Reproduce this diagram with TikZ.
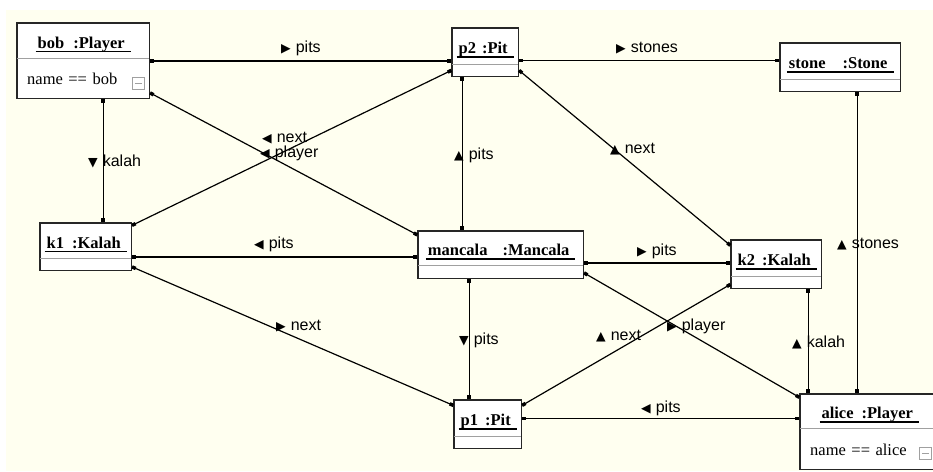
\documentclass[tikz,border=0pt]{standalone}
\usepackage{fontspec}
\setmainfont{Liberation Serif}
\newfontfamily\lblfont{Liberation Sans}
\newfontfamily\symfont{DejaVu Sans}
\usetikzlibrary{positioning,fit,arrows.meta}

\definecolor{paper}{HTML}{FFFFF0}
\definecolor{sepgray}{HTML}{A0A0A0}

\newcommand\titleul[1]{\setbox0\hbox{\hspace{2pt}#1\hspace{6pt}}\rlap{\rule[-4pt]{\wd0}{1.3pt}}\box0}
\newcommand\lbltri[1]{{\symfont\fontsize{12.5}{12}\selectfont #1}\hspace{5pt}}

\tikzset{
  ttl/.style={fill=white, inner sep=0pt, anchor=north west, text height=15pt, text depth=0pt,
    font=\bfseries\fontsize{16.5}{18}\selectfont},
  att/.style={fill=white, inner sep=0pt, text height=12pt, text depth=0pt,
    font=\fontsize{16.5}{18}\selectfont},
  attv/.style={att, inner xsep=10pt, align=left, text width=#1},
  frame/.style={draw=black!85, line width=1.3pt, inner sep=0pt},
  sepline/.style={draw=sepgray, line width=0.9pt},
  minus/.style={draw=sepgray, line width=0.9pt, minimum size=12pt, inner sep=0pt, text=sepgray},
  link/.style={line width=1.2pt, {Square[length=4pt,width=3.5pt]}-{Square[length=4pt,width=3.5pt]}},
  lbl/.style={anchor=base west, inner sep=0pt, font=\lblfont\fontsize{16}{16}\selectfont}
}

\begin{document}
\begin{tikzpicture}[x=1pt,y=-1pt]
  \useasboundingbox (0,0) rectangle (933,471);
  \fill[paper] (6,10) rectangle (933,471);

  % objects
  \node[ttl, minimum width=132pt, minimum height=35pt] (bobT) at (17,23) {\titleul{bob\hspace{9pt}:Player}};
  \node[attv=112pt, minimum height=40pt, below=0pt of bobT] (bobA) {name == bob};
  \node[frame, fit=(bobT)(bobA)] (bob) {};
  \draw[sepline] (bobT.south west) -- (bobT.south east);
  \node[minus] (bobI) at ([xshift=-11pt,yshift=-5pt]bobA.east) {\rule{7pt}{1.2pt}};

  \node[ttl, minimum width=66pt, minimum height=36pt] (p2T) at (452,28) {\titleul{p2\hspace{6pt}:Pit}};
  \node[att, minimum width=66pt, minimum height=12pt, below=0pt of p2T] (p2A) {};
  \node[frame, fit=(p2T)(p2A)] (p2) {};
  \draw[sepline] (p2T.south west) -- (p2T.south east);

  \node[ttl, minimum width=120pt, minimum height=36pt] (stoneT) at (780,43) {\titleul{stone\hspace{17pt}:Stone}};
  \node[att, minimum width=120pt, minimum height=12pt, below=0pt of stoneT] (stoneA) {};
  \node[frame, fit=(stoneT)(stoneA)] (stone) {};
  \draw[sepline] (stoneT.south west) -- (stoneT.south east);

  \node[ttl, minimum width=91pt, minimum height=35pt] (k1T) at (40,223) {\titleul{k1\hspace{8pt}:Kalah}};
  \node[att, minimum width=91pt, minimum height=12pt, below=0pt of k1T] (k1A) {};
  \node[frame, fit=(k1T)(k1A)] (k1) {};
  \draw[sepline] (k1T.south west) -- (k1T.south east);

  \node[ttl, minimum width=165pt, minimum height=34pt] (mancalaT) at (418,231) {\titleul{mancala\hspace{15pt}:Mancala}};
  \node[att, minimum width=165pt, minimum height=13pt, below=0pt of mancalaT] (mancalaA) {};
  \node[frame, fit=(mancalaT)(mancalaA)] (mancala) {};
  \draw[sepline] (mancalaT.south west) -- (mancalaT.south east);

  \node[ttl, minimum width=90pt, minimum height=36pt] (k2T) at (731,240) {\titleul{k2\hspace{7pt}:Kalah}};
  \node[att, minimum width=90pt, minimum height=12pt, below=0pt of k2T] (k2A) {};
  \node[frame, fit=(k2T)(k2A)] (k2) {};
  \draw[sepline] (k2T.south west) -- (k2T.south east);

  \node[ttl, minimum width=67pt, minimum height=36pt] (p1T) at (454,400) {\titleul{p1\hspace{7pt}:Pit}};
  \node[att, minimum width=67pt, minimum height=12pt, below=0pt of p1T] (p1A) {};
  \node[frame, fit=(p1T)(p1A)] (p1) {};
  \draw[sepline] (p1T.south west) -- (p1T.south east);

  \node[ttl, minimum width=138pt, minimum height=34pt] (aliceT) at (800,394) {\titleul{alice\hspace{8pt}:Player}};
  \node[attv=118pt, minimum height=41pt, below=0pt of aliceT] (aliceA) {name == alice};
  \node[frame, fit=(aliceT)(aliceA)] (alice) {};
  \draw[sepline] (aliceT.south west) -- (aliceT.south east);
  \node[minus] (aliceI) at ([xshift=-12.5pt,yshift=-4.5pt]aliceA.east) {\rule{7pt}{1.2pt}};

  % links
  \draw[link] (bob.east) -- (bob.east -| p2.west);
  \draw[link] ([yshift=-32pt]bob.east) -- ([yshift=20pt]mancala.west);
  \draw[link] ([xshift=20pt]bob.south) -- ([xshift=20pt]bob.south |- k1.north);
  \draw[link] ([yshift=-8pt]p2.east) -- ([yshift=-8pt]p2.east -| stone.west);
  \draw[link] ([yshift=-18pt]p2.east) -- ([yshift=19pt]k2.west);
  \draw[link] ([xshift=-23pt]p2.south) -- ([xshift=-23pt]p2.south |- mancala.north);
  \draw[link] ([yshift=-3pt]k1.north east) -- ([yshift=-18pt]p2.west);
  \draw[link] ([yshift=-10pt]k1.east) -- ([yshift=-10pt]k1.east -| mancala.west);
  \draw[link] ([yshift=-20pt]k1.east) -- ([yshift=19pt]p1.west);
  \draw[link] ([yshift=-8pt]mancala.east) -- ([yshift=-8pt]mancala.east -| k2.west);
  \draw[link] ([yshift=-18pt]mancala.east) -- ([yshift=-4pt]alice.north west);
  \draw[link] ([xshift=-31.5pt]mancala.south) -- ([xshift=-31.5pt]mancala.south |- p1.north);
  \draw[link] ([yshift=19pt]p1.east) -- ([yshift=-20pt]k2.west);
  \draw[link] ([yshift=6pt]p1.east) -- ([yshift=6pt]p1.east -| alice.west);
  \draw[link] ([xshift=32pt]k2.south) -- ([xshift=32pt]k2.south |- alice.north);
  \draw[link] ([xshift=17pt]stone.south) -- ([xshift=17pt]stone.south |- alice.north);

  % link labels
  \node[lbl] (lPitsBob)    at (281,52)  {\lbltri{▶}pits};
  \node[lbl] (lStonesP2)   at (616,52)  {\lbltri{▶}stones};
  \node[lbl] (lNextK1)     at (262,142) {\lbltri{◀}next};
  \node[lbl] (lPlayerBob)  at (260,157) {\lbltri{◀}player};
  \node[lbl] (lKalahBob)   at (88,166)  {\lbltri{▼}kalah};
  \node[lbl] (lPitsP2)     at (454,159) {\lbltri{▲}pits};
  \node[lbl] (lNextP2)     at (610,153) {\lbltri{▲}next};
  \node[lbl] (lPitsK1)     at (254,248) {\lbltri{◀}pits};
  \node[lbl] (lPitsK2)     at (637,255) {\lbltri{▶}pits};
  \node[lbl] (lStonesAl)   at (837,248) {\lbltri{▲}stones};
  \node[lbl] (lNextP1)     at (276,330) {\lbltri{▶}next};
  \node[lbl] (lPitsP1)     at (459,344) {\lbltri{▼}pits};
  \node[lbl] (lNextK2)     at (596,340) {\lbltri{▲}next};
  \node[lbl] (lPlayerAl)   at (667,330) {\lbltri{▶}player};
  \node[lbl] (lKalahAl)    at (792,347) {\lbltri{▲}kalah};
  \node[lbl] (lPitsAl)     at (641,412) {\lbltri{◀}pits};
\end{tikzpicture}
\end{document}
